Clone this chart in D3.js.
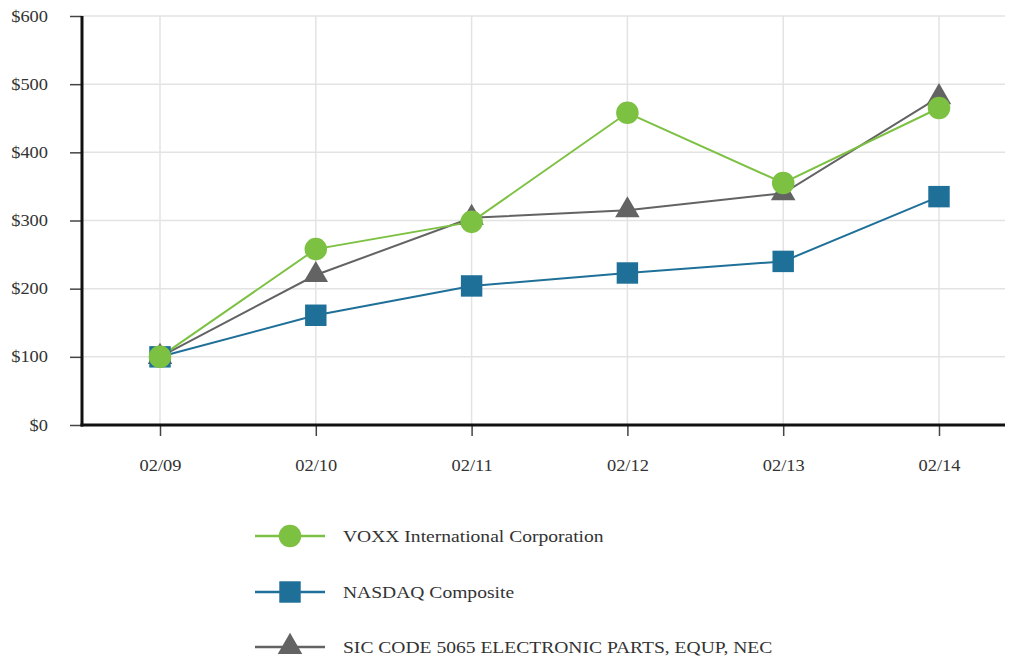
<!DOCTYPE html>
<html><head><meta charset="utf-8">
<script src="https://cdn.jsdelivr.net/npm/d3@7"></script>
<style>body{margin:0;background:#fff}svg{display:block}</style>
</head><body><svg id="c" width="1010" height="660"></svg>
<script>
const categories = ["02/09","02/10","02/11","02/12","02/13","02/14"];
const voxx = [100, 258, 298, 458, 355, 465];
const nasdaq = [100, 161, 204, 223, 240, 335];
const sic = [100, 220, 304, 315, 340, 481];
const yTicks = [0,100,200,300,400,500,600];
const seriesNames = ["VOXX International Corporation","NASDAQ Composite","SIC CODE 5065 ELECTRONIC PARTS, EQUP, NEC"];

const FONT = '"Liberation Serif","DejaVu Serif",serif';
const STRETCH = 1.15;
function stretch(sel){
  sel.each(function(){
    const w = this.getComputedTextLength();
    d3.select(this).attr("textLength", w*STRETCH).attr("lengthAdjust","spacingAndGlyphs");
  });
}

const svg = d3.select("#c");
const L = 82, R = 1005, T = 16, B = 425;
const x = d3.scalePoint().domain(categories).range([160, 939]);
const y = d3.scaleLinear().domain([0,600]).range([B, T]);

const grid = svg.append("g");
grid.selectAll("line.h").data(yTicks.slice(1)).join("line")
  .attr("x1", L).attr("x2", R).attr("y1", d=>y(d)).attr("y2", d=>y(d))
  .attr("stroke", "#e3e3e3").attr("stroke-width", 1.5);
grid.selectAll("line.v").data(categories).join("line")
  .attr("x1", d=>x(d)).attr("x2", d=>x(d)).attr("y1", T).attr("y2", B)
  .attr("stroke", "#e3e3e3").attr("stroke-width", 1.5);

const yAxis = svg.append("g").attr("transform", `translate(${L},0)`)
  .call(d3.axisLeft(y).tickValues(yTicks).tickFormat(d=>"$"+d).tickSize(12).tickPadding(22));
yAxis.attr("font-family", FONT).attr("font-size", 16);
yAxis.select(".domain").remove();
yAxis.selectAll(".tick line").attr("stroke", "#444").attr("stroke-width", 1.5);
yAxis.selectAll("text").attr("fill", "#333").style("font-family", FONT).style("font-size","16px").call(stretch);

const xAxis = svg.append("g").attr("transform", `translate(0,${B})`)
  .call(d3.axisBottom(x).tickSize(11).tickPadding(24));
xAxis.attr("font-family", FONT).attr("font-size", 16);
xAxis.select(".domain").remove();
xAxis.selectAll(".tick line").attr("stroke", "#444").attr("stroke-width", 1.5);
xAxis.selectAll("text").attr("fill", "#333").style("font-family", FONT).style("font-size","16px").call(stretch);

svg.append("line").attr("x1", L).attr("x2", L).attr("y1", T).attr("y2", B+1.5).attr("stroke", "#111").attr("stroke-width", 3);
svg.append("line").attr("x1", L-1.5).attr("x2", R).attr("y1", B).attr("y2", B).attr("stroke", "#111").attr("stroke-width", 3);

const series = [
  {name: seriesNames[0], values: voxx, color: "#7cc142", sym: d3.symbolCircle, size: 400},
  {name: seriesNames[1], values: nasdaq, color: "#1f7099", sym: d3.symbolSquare, size: 460},
  {name: seriesNames[2], values: sic, color: "#636363", sym: d3.symbolTriangle, size: 260}
];
const line = d3.line().x((d,i)=>x(categories[i])).y(d=>y(d));
const drawOrder = [2,1,0];
drawOrder.forEach(k=>{
  const s = series[k];
  svg.append("path").attr("d", line(s.values)).attr("fill","none").attr("stroke", s.color).attr("stroke-width", 2);
});
drawOrder.forEach(k=>{
  const s = series[k];
  svg.append("g").selectAll("path").data(s.values).join("path")
    .attr("transform", (d,i)=>`translate(${x(categories[i])},${y(d)})`)
    .attr("d", d3.symbol().type(s.sym).size(s.size)())
    .attr("fill", s.color);
});

const legY = [536, 592, 647];
series.forEach((s,i)=>{
  const g = svg.append("g").attr("transform", `translate(0,${legY[i]})`);
  g.append("line").attr("x1",255).attr("x2",325).attr("y1",0).attr("y2",0).attr("stroke", s.color).attr("stroke-width", 2.5);
  g.append("path").attr("transform","translate(290,0)").attr("d", d3.symbol().type(s.sym).size(s.size)()).attr("fill", s.color);
  g.append("text").attr("x", 343).attr("y", 0).attr("dy","0.35em")
    .style("font-family", FONT).style("font-size","17px").attr("fill","#333").text(s.name).call(stretch);
});
</script></body></html>
